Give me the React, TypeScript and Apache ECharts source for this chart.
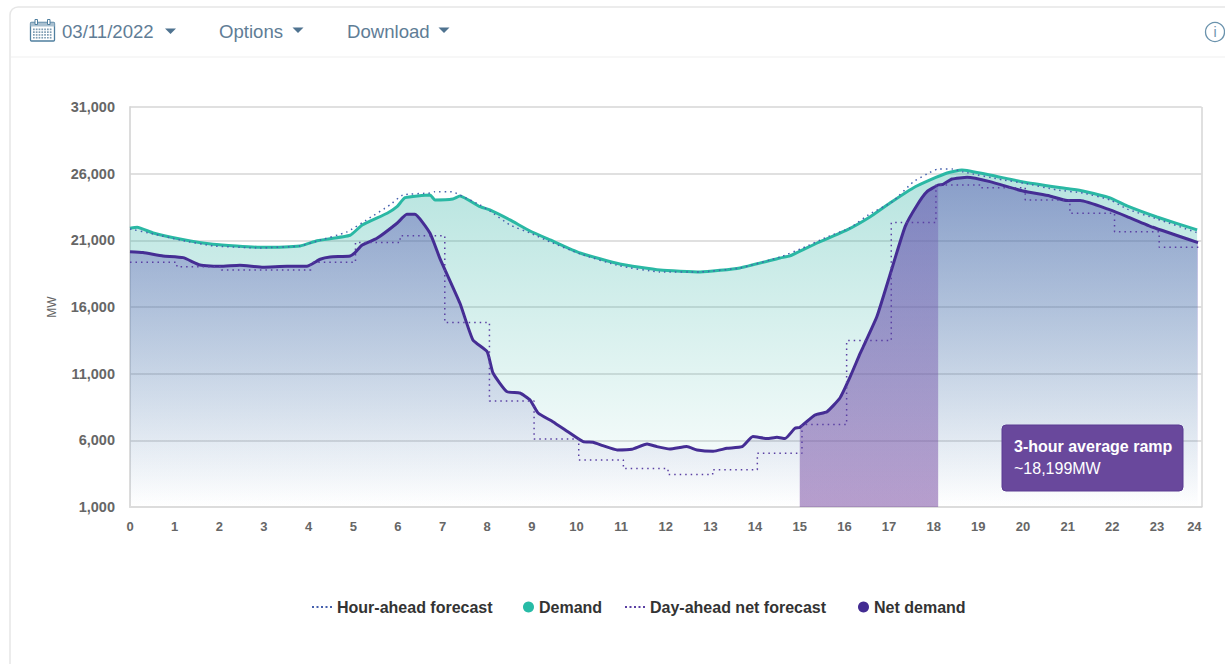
import React, { useEffect, useRef } from "react";
import * as echarts from "echarts";

const yTicks = [1000, 6000, 11000, 16000, 21000, 26000, 31000];

const demandHours = [0, 0.16, 0.52, 1.12, 1.86, 2.91, 3.81, 4.19, 4.93, 5.2, 5.76, 5.98, 6.16, 6.72, 6.83, 7.23, 7.39, 7.84, 8.06, 8.51, 8.96, 9.41, 10.08, 10.97, 11.87, 12.77, 13.66, 14.56, 14.78, 15.39, 16.06, 16.57, 17.02, 17.54, 17.92, 18.3, 18.63, 19.26, 20.0, 21.05, 21.34, 21.95, 22.33, 23.0, 23.9];
const demandValues = [21900, 21980, 21550, 21100, 20700, 20480, 20580, 20970, 21380, 22150, 23030, 23520, 24200, 24400, 24030, 24100, 24330, 23520, 23280, 22530, 21700, 21030, 20050, 19230, 18780, 18630, 18930, 19680, 19830, 20800, 21780, 22750, 23800, 24930, 25530, 26050, 26280, 25900, 25380, 24850, 24700, 24180, 23580, 22750, 21780];

const netHours = [0, 0.29, 0.74, 1.19, 1.57, 2.02, 2.46, 2.98, 3.52, 3.96, 4.26, 4.48, 4.93, 5.04, 5.2, 5.53, 5.98, 6.2, 6.38, 6.72, 6.94, 7.39, 7.68, 8.0, 8.13, 8.44, 8.73, 8.96, 9.14, 9.47, 9.85, 10.15, 10.37, 10.59, 10.91, 11.24, 11.58, 11.8, 12.09, 12.47, 12.7, 13.06, 13.37, 13.71, 13.95, 14.27, 14.49, 14.67, 14.89, 15.0, 15.34, 15.61, 15.9, 16.12, 16.35, 16.42, 16.73, 17.02, 17.36, 17.63, 17.85, 18.1, 18.21, 18.41, 18.75, 19.26, 20.0, 20.6, 20.99, 21.28, 21.95, 22.33, 22.91, 23.92];
const netValues = [20150, 20080, 19830, 19700, 19150, 19050, 19130, 18980, 19050, 19050, 19580, 19750, 19830, 20080, 20650, 21150, 22280, 22950, 22950, 21530, 19650, 16280, 13530, 12650, 11050, 9650, 9550, 9030, 8050, 7400, 6550, 5900, 5850, 5600, 5280, 5330, 5730, 5530, 5350, 5530, 5280, 5180, 5400, 5530, 6280, 6130, 6230, 6130, 6900, 6970, 7900, 8150, 9175, 10700, 12500, 13000, 15300, 18400, 22030, 23650, 24650, 25150, 25200, 25600, 25730, 25400, 24700, 24330, 23980, 23980, 23280, 22780, 21980, 20830];

const hourAheadHours = [0, 0.52, 1.12, 1.86, 2.91, 3.81, 4.19, 4.86, 5.33, 5.82, 6.11, 6.72, 6.83, 7.23, 7.39, 7.84, 8.06, 8.51, 8.96, 9.41, 10.08, 10.97, 11.87, 12.77, 13.66, 14.56, 15.07, 15.61, 16.12, 16.57, 17.07, 17.54, 17.85, 18.1, 18.43, 18.66, 19.55, 20.0, 20.76, 21.34, 21.95, 22.33, 23.0, 23.92];
const hourAheadValues = [21850, 21480, 21030, 20580, 20430, 20580, 20950, 21630, 22600, 23650, 24400, 24550, 24650, 24630, 24400, 23650, 23200, 22150, 21550, 20880, 19980, 19080, 18630, 18630, 18930, 19750, 20430, 21250, 21930, 22980, 23880, 25380, 25980, 26350, 26350, 26130, 25530, 25300, 24780, 24550, 24030, 23350, 22600, 21550];

const dayAheadHours = [0, 1.05, 2.05, 3.05, 4.05, 5.05, 6.05, 7.05, 8.05, 9.05, 10.05, 11.05, 12.05, 13.05, 14.05, 15.05, 16.05, 17.05, 18.05, 19.05, 20.05, 21.05, 22.05, 23.05, 24];
const dayAheadValues = [19350, 19020, 18780, 18780, 19350, 20830, 21350, 14830, 8950, 6100, 4530, 3880, 3430, 3800, 5030, 7180, 13480, 22330, 25150, 24950, 24030, 23030, 21650, 20480, 20480];

const rampStart = 15;
const rampEnd = 18.1;
const legendNames = ["Hour-ahead forecast", "Demand", "Day-ahead net forecast", "Net demand"];
const headerItems = ["03/11/2022", "Options", "Download"];
const noteLines = ["3-hour average ramp", "~18,199MW"];

const zip = (xs: number[], ys: number[]) => xs.map((x, i) => [x, ys[i]]);
const FONT = "'Liberation Sans', Arial, sans-serif";
const TOOL = "#5f7d96";
const DOTS = "path://M0 0h2v2H0zM4.5 0h2v2H4.5zM9 0h2v2H9zM13.5 0h2v2H13.5zM18 0h2v2H18z";

const caret = (cx: number, cy: number) => ({
  type: "polygon",
  shape: { points: [[cx - 5.5, cy - 2.5], [cx + 5.5, cy - 2.5], [cx, cy + 3]] },
  style: { fill: "#4f7390" },
});

function calendarIcon() {
  const out: any[] = [
    { type: "rect", shape: { x: 30.5, y: 22.5, width: 24, height: 18.5, r: 1 }, style: { fill: "#fff", stroke: "#4f7f9f", lineWidth: 1.3 } },
    { type: "rect", shape: { x: 30.5, y: 22.5, width: 24, height: 4 }, style: { fill: "#a9c0d0" } },
    { type: "rect", shape: { x: 35, y: 19.5, width: 2.5, height: 5 }, style: { fill: "#fff", stroke: "#4f7f9f", lineWidth: 1 } },
    { type: "rect", shape: { x: 47.5, y: 19.5, width: 2.5, height: 5 }, style: { fill: "#fff", stroke: "#4f7f9f", lineWidth: 1 } },
  ];
  for (let r = 0; r < 4; r++) {
    for (let c = 0; c < 7; c++) {
      out.push({ type: "rect", shape: { x: 33 + c * 2.8, y: 28.5 + r * 2.8, width: 1.7, height: 1.7 }, style: { fill: "#7f9db3" } });
    }
  }
  return out;
}

export default function App() {
  const ref = useRef<HTMLDivElement>(null);
  useEffect(() => {
    const chart = echarts.init(ref.current!, undefined, { renderer: "svg" });
    const net = zip(netHours, netValues);
    const ramp = net.filter((p) => p[0] >= rampStart && p[0] <= rampEnd);
    const legendText = { fontFamily: FONT, fontWeight: "bold" as const, fontSize: 16, color: "#333" };
    const legendBase = { padding: 0, textStyle: legendText, selectedMode: false };
    chart.setOption({
      animation: false,
      grid: { left: 130, top: 107, width: 1071.6, height: 400, show: false },
      legend: [
        { ...legendBase, top: 599, left: 312, itemWidth: 20, itemHeight: 2, data: [{ name: legendNames[0], icon: DOTS, itemStyle: { color: "#4560ad" } }] },
        { ...legendBase, top: 599, left: 523, itemWidth: 11, itemHeight: 11, data: [{ name: legendNames[1], icon: "circle" }] },
        { ...legendBase, top: 599, left: 625, itemWidth: 20, itemHeight: 2, data: [{ name: legendNames[2], icon: DOTS, itemStyle: { color: "#5a3fa3" } }] },
        { ...legendBase, top: 599, left: 858, itemWidth: 11, itemHeight: 11, data: [{ name: legendNames[3], icon: "circle" }] },
      ],
      xAxis: {
        type: "value", min: 0, max: 24, interval: 1,
        axisLine: { show: true, lineStyle: { color: "#dcdcdc", width: 2 } },
        axisTick: { show: false },
        splitLine: { show: false },
        axisLabel: { color: "#666", fontFamily: FONT, fontWeight: "bold", fontSize: 13, margin: 13, alignMaxLabel: "right", showMaxLabel: true },
      },
      yAxis: {
        type: "value", min: 1000, max: 31000,
        name: "MW", nameLocation: "middle", nameGap: 72, nameRotate: 90,
        nameTextStyle: { color: "#666", fontFamily: FONT, fontSize: 12 },
        axisLine: { show: true, lineStyle: { color: "#dcdcdc", width: 2 } },
        axisTick: { show: false },
        splitLine: { show: false },
        axisLabel: { color: "#666", fontFamily: FONT, fontWeight: "bold", fontSize: 14.5, margin: 15, customValues: yTicks, formatter: (v: number) => v.toLocaleString("en-US") },
      },
      series: [
        {
          name: "Gridlines", type: "line", data: [], z: 1,
          markLine: {
            silent: true, symbol: "none", z: 1, label: { show: false }, animation: false,
            lineStyle: { color: "#d6d6d6", width: 1.5, type: "solid" },
            data: [...yTicks.slice(1).map((v) => ({ yAxis: v })), { xAxis: 24 }],
          },
        },
        {
          name: legendNames[1], type: "line", symbol: "none", z: 2, smooth: 0.15,
          data: zip(demandHours, demandValues),
          itemStyle: { color: "#27bba6" },
          lineStyle: { color: "#2ab8a4", width: 3 },
          areaStyle: {
            origin: "start", opacity: 1,
            color: new echarts.graphic.LinearGradient(0, 0, 0, 1, [
              { offset: 0, color: "rgba(40,175,160,0.34)" },
              { offset: 1, color: "rgba(40,175,160,0)" },
            ]),
          },
        },
        {
          name: legendNames[3], type: "line", symbol: "none", z: 5, smooth: 0.15,
          data: net,
          itemStyle: { color: "#432c92" },
          lineStyle: { color: "#452d94", width: 3 },
          areaStyle: {
            origin: "start", opacity: 1,
            color: new echarts.graphic.LinearGradient(0, 0, 0, 1, [
              { offset: 0, color: "rgba(72,60,170,0.42)" },
              { offset: 1, color: "rgba(72,60,170,0)" },
            ]),
          },
        },
        {
          name: "3-hour ramp", type: "line", symbol: "none", z: 4, smooth: 0.15,
          data: ramp,
          lineStyle: { width: 0 },
          areaStyle: {
            origin: "start", opacity: 1,
            color: new echarts.graphic.LinearGradient(0, 0, 0, 1, [
              { offset: 0, color: "rgba(130,110,180,0.38)" },
              { offset: 1, color: "rgba(110,60,155,0.5)" },
            ]),
          },
        },
        {
          name: legendNames[0], type: "line", symbol: "none", z: 6, smooth: 0.15,
          data: zip(hourAheadHours, hourAheadValues),
          itemStyle: { color: "#4560ad" },
          lineStyle: { color: "#4560ad", width: 1.5, type: [1.5, 4] },
        },
        {
          name: legendNames[2], type: "line", symbol: "none", z: 6, step: "end",
          data: zip(dayAheadHours, dayAheadValues),
          itemStyle: { color: "#5a3fa3" },
          lineStyle: { color: "#5a3fa3", width: 1.5, type: [1.5, 4] },
        },
      ],
      graphic: [
        { type: "rect", z: -1, shape: { x: 10, y: 7, width: 1260, height: 700, r: 8 }, style: { fill: "#fff", stroke: "#e6e6e6", lineWidth: 1.5 } },
        { type: "line", z: -1, shape: { x1: 11, y1: 57, x2: 1225, y2: 57 }, style: { stroke: "#f5f5f5", lineWidth: 1.5 } },
        ...calendarIcon(),
        { type: "text", x: 62, y: 22, style: { text: headerItems[0], fontFamily: FONT, fontSize: 18.6, fill: TOOL } },
        { type: "text", x: 219, y: 22, style: { text: headerItems[1], fontFamily: FONT, fontSize: 18.6, fill: TOOL } },
        { type: "text", x: 347, y: 22, style: { text: headerItems[2], fontFamily: FONT, fontSize: 18.6, fill: TOOL } },
        caret(170.5, 31), caret(298, 30), caret(444, 30),
        { type: "circle", shape: { cx: 1215, cy: 32, r: 9.5 }, style: { fill: "#fff", stroke: "#6b93ad", lineWidth: 1.3 } },
        { type: "text", x: 1213.5, y: 25, style: { text: "i", fontFamily: FONT, fontSize: 14, fill: "#6b93ad" } },
        { type: "rect", z: 20, shape: { x: 1002, y: 425, width: 181, height: 66, r: 4 }, style: { fill: "#69489c", stroke: "#5a3a92", lineWidth: 1 } },
        { type: "text", z: 21, x: 1014, y: 438.5, style: { text: noteLines[0], fontFamily: FONT, fontWeight: "bold", fontSize: 16, fill: "#fff" } },
        { type: "text", z: 21, x: 1014, y: 460, style: { text: noteLines[1], fontFamily: FONT, fontSize: 16, fill: "#fff" } },
      ],
    });
    return () => chart.dispose();
  }, []);
  return <div ref={ref} style={{ position: "fixed", left: 0, top: 0, width: 1225, height: 664, background: "#fff" }} />;
}
